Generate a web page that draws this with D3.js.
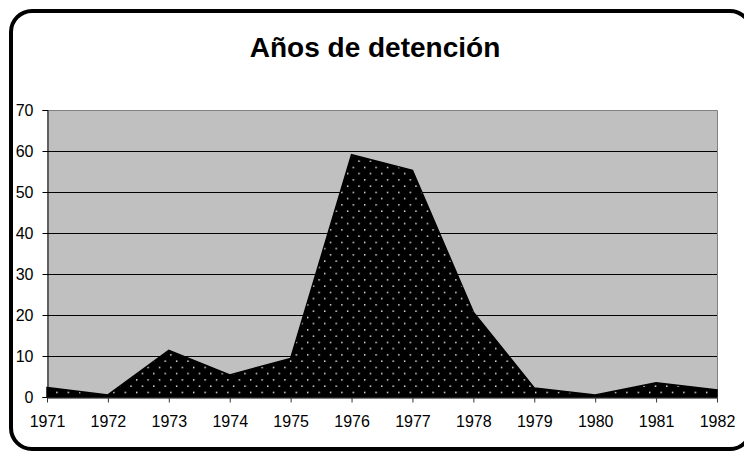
<!DOCTYPE html>
<html>
<head>
<meta charset="utf-8">
<script src="https://cdn.jsdelivr.net/npm/d3@7/dist/d3.min.js"></script>
<style>
  html, body { margin: 0; padding: 0; background: #fff; }
  svg { display: block; }
  text { font-family: "Liberation Sans", Arial, sans-serif; }
</style>
</head>
<body>
<div id="chart"></div>
<script>
// Años de detención, 1971–1982
const years = ["1971","1972","1973","1974","1975","1976","1977","1978","1979","1980","1981","1982"];
const detenidos = [2.3, 0.5, 11.4, 5.4, 9.4, 59.1, 55.3, 20.7, 2.2, 0.5, 3.5, 1.7];
const yTicks = [0, 10, 20, 30, 40, 50, 60, 70];
const title = "Años de detención";

const W = 744, H = 451;
const plot = { left: 47, right: 717, top: 110, bottom: 397 };

const svg = d3.select("#chart").append("svg")
  .attr("width", W).attr("height", H);

// dotted fill for the area
const defs = svg.append("defs");
const pat = defs.append("pattern")
  .attr("id", "dots")
  .attr("patternUnits", "userSpaceOnUse")
  .attr("x", 10.6).attr("y", 4.2)
  .attr("width", 11.4).attr("height", 12.5);
pat.append("rect").attr("width", 11.4).attr("height", 12.5).attr("fill", "#000");
pat.append("rect").attr("x", 0).attr("y", 0).attr("width", 1.4).attr("height", 1.4).attr("fill", "#fff");
pat.append("rect").attr("x", 5.7).attr("y", 6.25).attr("width", 1.4).attr("height", 1.4).attr("fill", "#fff");

// rounded outer frame
svg.append("rect")
  .attr("x", 11).attr("y", 11)
  .attr("width", 740).attr("height", 438)
  .attr("rx", 21).attr("ry", 21)
  .attr("fill", "none").attr("stroke", "#000").attr("stroke-width", 4);

// title
svg.append("text")
  .attr("x", 375).attr("y", 57)
  .attr("text-anchor", "middle")
  .attr("font-size", 28).attr("font-weight", "bold")
  .attr("fill", "#000")
  .text(title);

const x = d3.scalePoint().domain(years).range([plot.left, plot.right]);
const y = d3.scaleLinear().domain([0, 70]).range([plot.bottom, plot.top]);

// plot background
svg.append("rect")
  .attr("x", plot.left).attr("y", plot.top)
  .attr("width", plot.right - plot.left).attr("height", plot.bottom - plot.top)
  .attr("fill", "#c0c0c0");

// gridlines
svg.append("g")
  .selectAll("line")
  .data(yTicks.filter(d => d > 0 && d < 70))
  .join("line")
  .attr("x1", plot.left).attr("x2", plot.right)
  .attr("y1", d => Math.round(y(d)) + 0.5).attr("y2", d => Math.round(y(d)) + 0.5)
  .attr("stroke", "#000").attr("stroke-width", 1);

// plot border (top and right)
svg.append("path")
  .attr("d", `M${plot.left},${plot.top + 0.5}H${plot.right + 0.5}V${plot.bottom}`)
  .attr("fill", "none").attr("stroke", "#808080").attr("stroke-width", 1);

// area
const area = d3.area()
  .x((d, i) => x(years[i]))
  .y0(y(0))
  .y1(d => y(d));
svg.append("path")
  .datum(detenidos)
  .attr("d", area)
  .attr("fill", "url(#dots)")
  .attr("stroke", "#000").attr("stroke-width", 1.5)
  .attr("stroke-linejoin", "miter");

// y axis
const yAxis = d3.axisLeft(y).tickValues(yTicks).tickSize(5).tickPadding(9);
const gy = svg.append("g")
  .attr("transform", `translate(${plot.left + 0.5},0)`)
  .call(yAxis);
gy.select(".domain").attr("stroke", "#000");
gy.selectAll(".tick line").attr("stroke", "#000");
gy.selectAll(".tick text")
  .attr("font-size", 16)
  .attr("font-family", "'Liberation Sans', Arial, sans-serif")
  .attr("fill", "#000");

// x axis
const xAxis = d3.axisBottom(x).tickSize(5).tickPadding(13).tickSizeOuter(0);
const gx = svg.append("g")
  .attr("transform", `translate(0,${plot.bottom + 0.5})`)
  .call(xAxis);
gx.select(".domain").attr("stroke", "#000");
gx.selectAll(".tick line").attr("stroke", "#333");
gx.selectAll(".tick text")
  .attr("font-size", 16)
  .attr("font-family", "'Liberation Sans', Arial, sans-serif")
  .attr("fill", "#000");
</script>
</body>
</html>
